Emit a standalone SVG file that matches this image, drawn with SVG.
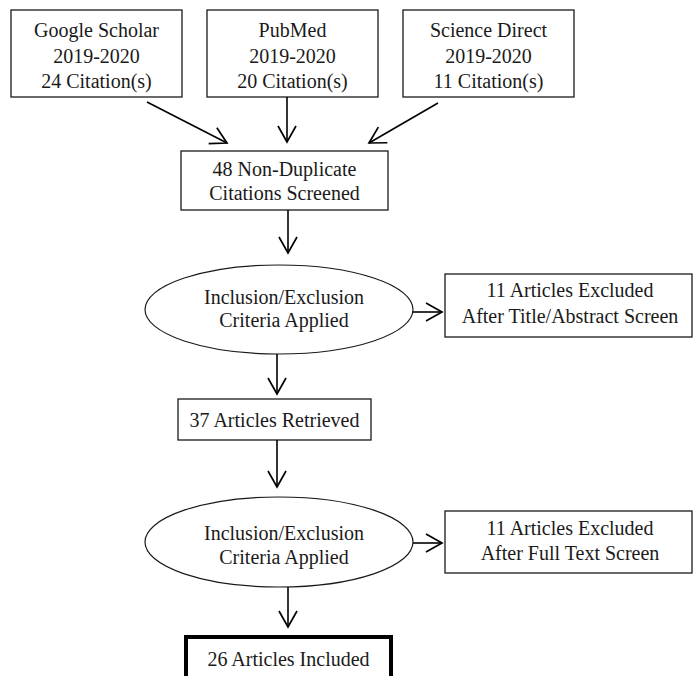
<svg xmlns="http://www.w3.org/2000/svg" width="693" height="676" viewBox="0 0 693 676">
<style>
  .box { fill: #fff; stroke: #1a1a1a; stroke-width: 1.3; }
  .thick { fill: #fff; stroke: #000; stroke-width: 4; }
  .ell { fill: #fff; stroke: #1a1a1a; stroke-width: 1.2; }
  text { font-family: "Liberation Serif", "Times New Roman", serif; font-size: 20px; fill: #1a1a1a; text-anchor: middle; }
  .conn { stroke: #000; stroke-width: 1.6; fill: none; marker-end: url(#arr); }
</style>
<defs>
  <marker id="arr" markerUnits="userSpaceOnUse" viewBox="-18 -11 20 22" refX="0" refY="0" markerWidth="20" markerHeight="22" orient="auto">
    <path d="M -16 -9 L 0 0 L -16 9" fill="none" stroke="#000" stroke-width="1.7" stroke-linejoin="miter"/>
  </marker>
</defs>
<rect width="693" height="676" fill="#fff"/>

<g id="google-scholar">
  <rect class="box" x="11" y="10" width="171" height="87"/>
  <text x="96.5" y="37">Google Scholar</text>
  <text x="96.5" y="63">2019-2020</text>
  <text x="96.5" y="88">24 Citation(s)</text>
</g>
<g id="pubmed">
  <rect class="box" x="207" y="10" width="171" height="87"/>
  <text x="292.5" y="37">PubMed</text>
  <text x="292.5" y="63">2019-2020</text>
  <text x="292.5" y="88">20 Citation(s)</text>
</g>
<g id="science-direct">
  <rect class="box" x="403" y="10" width="171" height="87"/>
  <text x="488.5" y="37">Science Direct</text>
  <text x="488.5" y="63">2019-2020</text>
  <text x="488.5" y="88">11 Citation(s)</text>
</g>
<g id="non-duplicate">
  <rect class="box" x="181" y="151" width="207" height="59"/>
  <text x="284.5" y="176">48 Non-Duplicate</text>
  <text x="284.5" y="200">Citations Screened</text>
</g>
<g id="criteria-1">
  <ellipse class="ell" cx="279" cy="309.5" rx="134" ry="44.5"/>
  <text x="284" y="304">Inclusion/Exclusion</text>
  <text x="284" y="327">Criteria Applied</text>
</g>
<g id="excluded-1">
  <rect class="box" x="445" y="274" width="247" height="63"/>
  <text x="570" y="297">11 Articles Excluded</text>
  <text x="570" y="323">After Title/Abstract Screen</text>
</g>
<g id="retrieved">
  <rect class="box" x="178" y="399" width="193" height="41"/>
  <text x="274.5" y="427">37 Articles Retrieved</text>
</g>
<g id="criteria-2">
  <ellipse class="ell" cx="279" cy="542" rx="134" ry="45"/>
  <text x="284" y="540">Inclusion/Exclusion</text>
  <text x="284" y="564">Criteria Applied</text>
</g>
<g id="excluded-2">
  <rect class="box" x="445" y="511" width="247" height="62"/>
  <text x="570" y="535">11 Articles Excluded</text>
  <text x="570" y="560">After Full Text Screen</text>
</g>
<g id="included">
  <rect class="thick" x="186" y="637" width="205" height="60"/>
  <text x="288.5" y="666">26 Articles Included</text>
</g>

<g id="connectors">
  <line class="conn" x1="147" y1="102" x2="227" y2="143"/>
  <line class="conn" x1="287" y1="97" x2="287" y2="142"/>
  <line class="conn" x1="438" y1="103" x2="369" y2="143"/>
  <line class="conn" x1="288" y1="210" x2="288" y2="253"/>
  <line class="conn" x1="413" y1="312" x2="442" y2="312"/>
  <line class="conn" x1="277" y1="354" x2="277" y2="394"/>
  <line class="conn" x1="277" y1="440" x2="277" y2="487"/>
  <line class="conn" x1="413" y1="543" x2="442" y2="543"/>
  <line class="conn" x1="288" y1="587" x2="288" y2="627"/>
</g>
</svg>
